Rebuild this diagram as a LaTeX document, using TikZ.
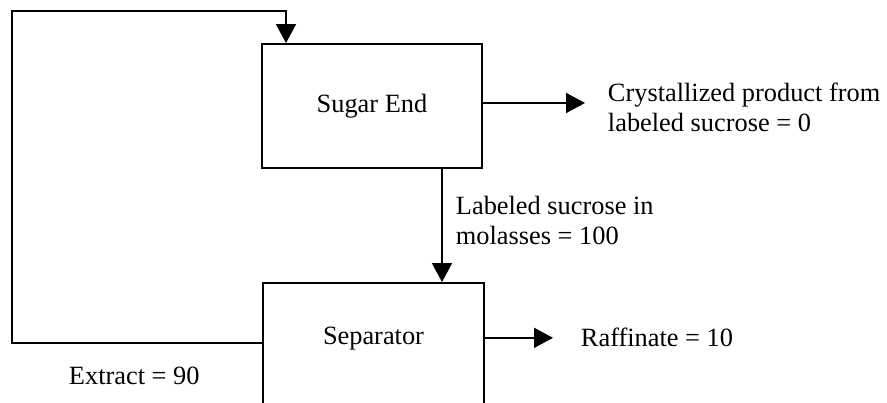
\documentclass[tikz,border=0pt]{standalone}
\usepackage{fontspec}
\setmainfont{Liberation Serif}
\usetikzlibrary{arrows.meta}

\begin{document}
\begin{tikzpicture}[line width=1.1pt,font=\fontsize{15}{17.2}\selectfont,
    unit/.style={draw,inner sep=0pt,anchor=base},
    flow/.style={-{Triangle[length=0.38cm,width=0.4cm]}},
    tag/.style={inner sep=0pt,anchor=base west,align=left}]
    \clip (0,0) rectangle (17.74,-8.06);

    \node at (7.44,-2.26) [unit,minimum width=4.4cm,text height=1.38cm,text depth=1.1cm] (sugar) {Sugar End};
    \node at (7.47,-6.90) [unit,minimum width=4.42cm,text height=1.24cm,text depth=1.7cm] (sep) {Separator};

    \node at (12.14,-2.64) [tag] (cryst) {Crystallized product from\\labeled sucrose = 0};
    \node at (9.10,-4.90) [tag] (mol) {Labeled sucrose in\\molasses = 100};
    \node at (11.60,-6.94) [tag] (raff) {Raffinate = 10};
    \node at (1.36,-7.70) [tag] (extr) {Extract = 90};

    \coordinate (crystin) at (11.70,-2.06);
    \coordinate (down) at (8.84,0);
    \coordinate (retA) at (0.24,-6.86);
    \coordinate (retB) at (5.72,-0.22);

    \draw[flow] (sugar.east |- crystin) -- (crystin);
    \draw[flow] (sugar.south -| down) -- (sep.north -| down);
    \draw[flow] (sep.east |- raff.west) -- ([xshift=-0.54cm]raff.west);
    \draw[flow] (sep.west |- retA) -- (retA) |- (retB) -- (retB |- sugar.north);
\end{tikzpicture}
\end{document}
